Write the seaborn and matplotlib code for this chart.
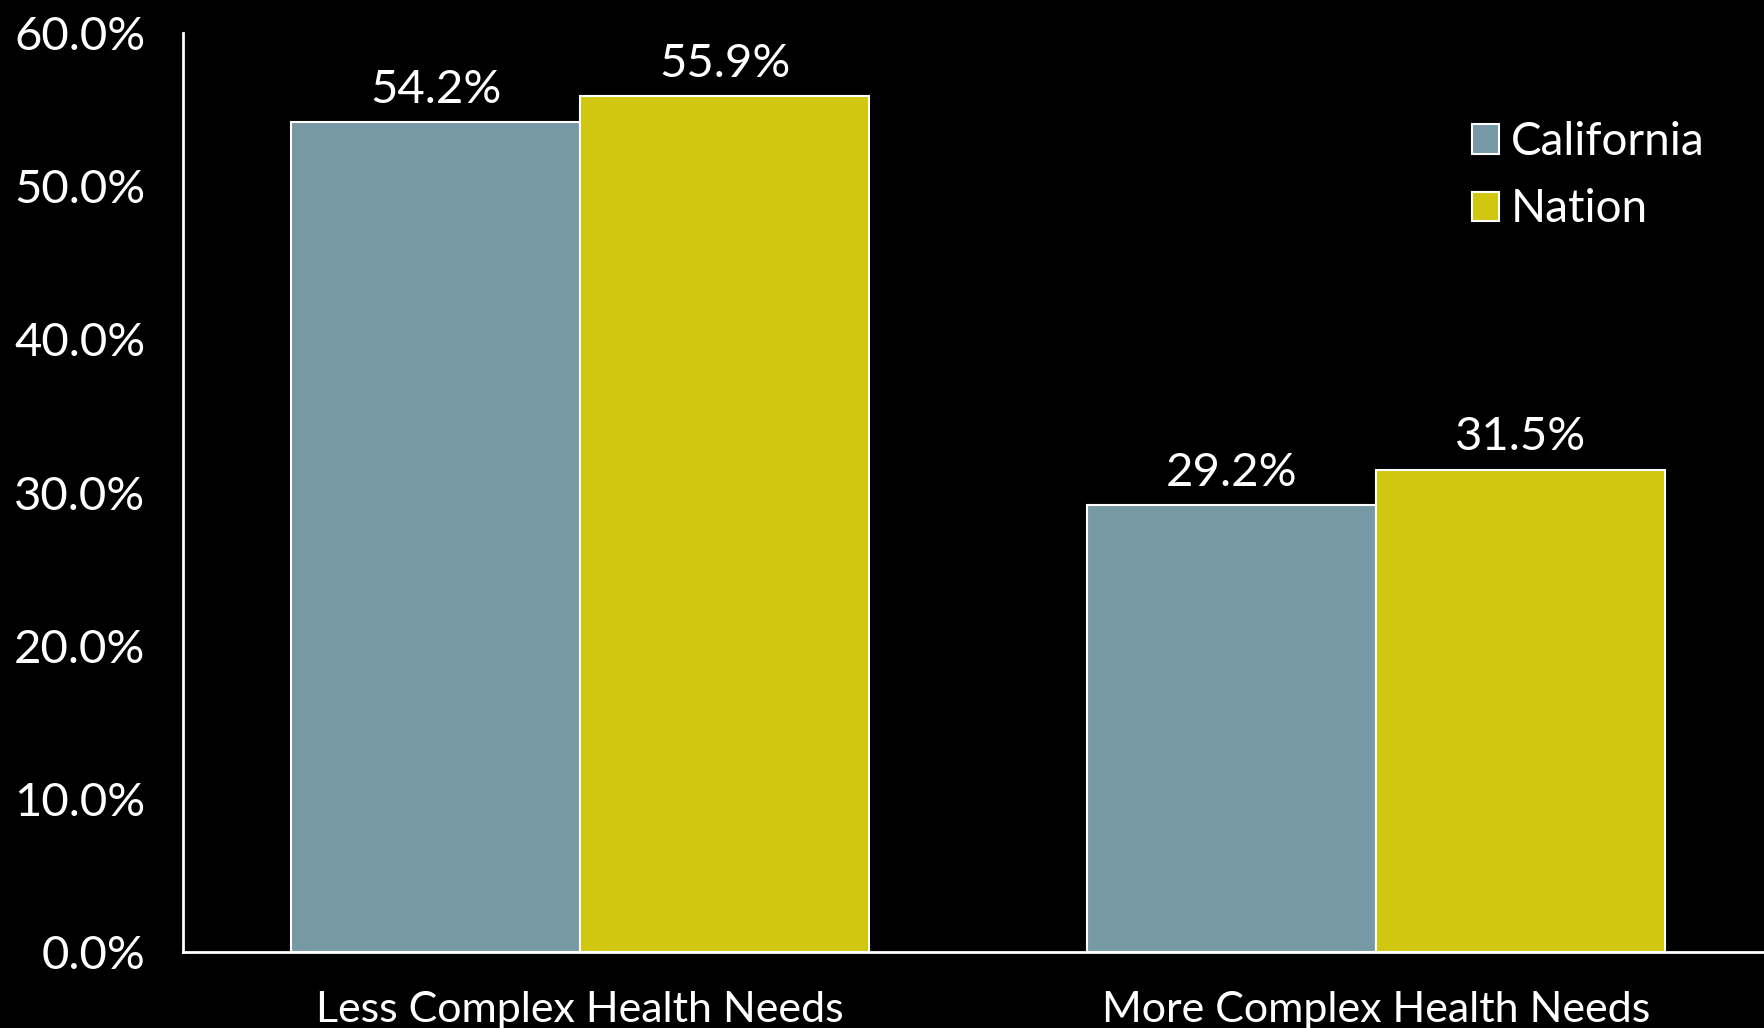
import matplotlib
matplotlib.use("Agg")
import matplotlib.pyplot as plt
import seaborn as sns
import pandas as pd
from matplotlib.ticker import FuncFormatter

categories = ["Less Complex Health Needs", "More Complex Health Needs"]
series_names = ["California", "Nation"]
california = [54.2, 29.2]
nation = [55.9, 31.5]
yticks = [0, 10, 20, 30, 40, 50, 60]

df = pd.DataFrame({
    "category": categories * 2,
    "series": [series_names[0]] * 2 + [series_names[1]] * 2,
    "value": california + nation,
})

sns.set_theme(style="white")
plt.rcParams["font.family"] = ["Lato", "DejaVu Sans"]

fig = plt.figure(figsize=(17.64, 10.28), dpi=100, facecolor="black")
ax = fig.add_axes([0.1037, 0.0739, 0.8963, 0.8940])
ax.set_facecolor("black")

palette = {"California": "#7799A5", "Nation": "#D1C610"}
sns.barplot(data=df, x="category", y="value", hue="series", palette=palette,
            width=0.726, edgecolor="white", linewidth=1.5, ax=ax, saturation=1)

for cont in ax.containers:
    ax.bar_label(cont, labels=[f"{v:.1f}%" for v in cont.datavalues],
                 padding=8, color="white", fontsize=34)

ax.set_ylim(0, 60)
ax.set_xlim(-0.499, 1.487)
ax.set_yticks(yticks)
ax.yaxis.set_major_formatter(FuncFormatter(lambda v, p: f"{v:.1f}%"))
ax.tick_params(axis="y", colors="white", labelsize=34, length=0, pad=27)
ax.tick_params(axis="x", colors="white", labelsize=31, length=0, pad=28)
ax.set_xlabel("")
ax.set_ylabel("")
for s in ["top", "right"]:
    ax.spines[s].set_visible(False)
for s in ["left", "bottom"]:
    ax.spines[s].set_color("white")
    ax.spines[s].set_linewidth(2)

leg = ax.legend(loc="upper left", bbox_to_anchor=(0.789, 0.949), frameon=False,
                fontsize=33, handlelength=0.6, handleheight=0.6,
                handletextpad=0.25, labelspacing=0.55, labelcolor="white")
for h in leg.legend_handles:
    h.set_edgecolor("white")
    h.set_linewidth(1.5)

fig.savefig("out.png", dpi=100, facecolor="black")
